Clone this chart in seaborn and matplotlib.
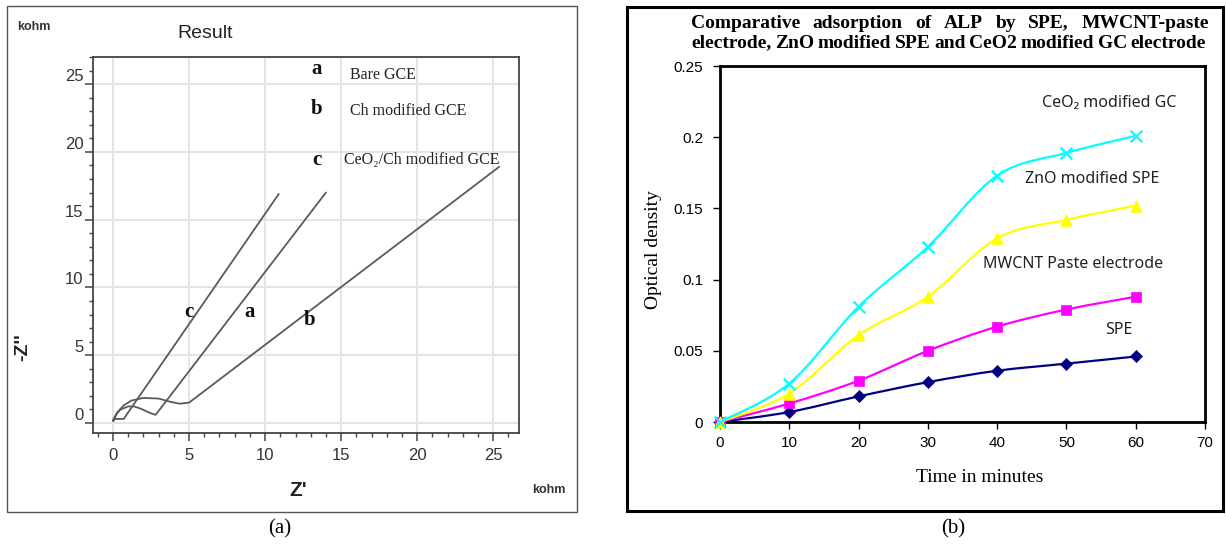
import numpy as np
import pandas as pd
import matplotlib
matplotlib.use("Agg")
import matplotlib.pyplot as plt
import seaborn as sns
from matplotlib.path import Path
from matplotlib.patches import PathPatch, Rectangle
from matplotlib.ticker import MultipleLocator

# ---------------- Panel (a): Nyquist plots (kohm) ----------------
bare_z_re = [0.0, 0.2, 0.5, 1.0, 1.4, 1.9, 2.4, 2.8, 14.0]
bare_z_im = [0.2, 0.65, 1.0, 1.22, 1.22, 1.02, 0.75, 0.6, 17.0]
ch_z_re = [0.0, 0.3, 0.7, 1.2, 2.0, 3.0, 3.8, 4.4, 5.0, 25.4]
ch_z_im = [0.15, 0.8, 1.3, 1.65, 1.85, 1.8, 1.55, 1.42, 1.5, 18.9]
ceo2_z_re = [0.0, 0.15, 0.7, 10.9]
ceo2_z_im = [0.15, 0.3, 0.3, 16.9]
a_ticks = [0, 5, 10, 15, 20, 25]
legend_letters = ["a", "b", "c"]
legend_names = ["Bare GCE", "Ch modified GCE", "CeO\u2082/Ch modified GCE"]

# ---------------- Panel (b): optical density vs time ----------------
time_min = [0, 10, 20, 30, 40, 50, 60]
od_spe = [0, 0.007, 0.018, 0.028, 0.036, 0.041, 0.046]
od_mwcnt = [0, 0.013, 0.029, 0.050, 0.067, 0.079, 0.088]
od_zno = [0, 0.020, 0.061, 0.088, 0.129, 0.142, 0.152]
od_ceo2 = [0, 0.027, 0.081, 0.123, 0.173, 0.189, 0.201]
series_names = ["SPE", "MWCNT Paste electrode", "ZnO modified SPE", "CeO\u2082 modified GC"]
b_xticks = [0, 10, 20, 30, 40, 50, 60, 70]
b_yticks = [0, 0.05, 0.1, 0.15, 0.2, 0.25]
b_yticklabels = ["0", "0.05", "0.1", "0.15", "0.2", "0.25"]

sns.set_theme(style="white")
plt.rcParams["font.family"] = ["Liberation Sans", "DejaVu Sans"]
SERIF = ["Liberation Serif", "DejaVu Serif"]
SANS = ["Liberation Sans", "DejaVu Sans"]
CAL = ["Noto Sans", "DejaVu Sans"]

W, H = 1226, 544
fig = plt.figure(figsize=(W / 100, H / 100), dpi=100)
fig.patch.set_facecolor("white")


def fx(px):
    return px / W


def fy(py):
    return 1 - py / H


# outer frames
fig.patches.append(Rectangle((fx(7), fy(512)), (577 - 7) / W, (512 - 6) / H,
                             transform=fig.transFigure, fill=False,
                             edgecolor="#555555", lw=1.0))
fig.patches.append(Rectangle((fx(627), fy(511)), (1223 - 627) / W, (511 - 7) / H,
                             transform=fig.transFigure, fill=False,
                             edgecolor="black", lw=2.2))

# ================= Panel (a) =================
axa = fig.add_axes([fx(93), fy(433), (519 - 93) / W, (433 - 57) / H])
gray = "#5a5a5a"
for xs, ys in [(bare_z_re, bare_z_im), (ch_z_re, ch_z_im), (ceo2_z_re, ceo2_z_im)]:
    sns.lineplot(x=xs, y=ys, sort=False, estimator=None, color=gray, lw=1.3, ax=axa)
axa.set_xlim(-1.32, 26.7)
axa.set_ylim(-0.74, 27.0)
axa.set_xticks(a_ticks)
axa.set_yticks(a_ticks)
axa.xaxis.set_minor_locator(MultipleLocator(1))
axa.yaxis.set_minor_locator(MultipleLocator(1))
axa.grid(True, which="major", color="#e4e4e4", lw=1.4)
axa.set_axisbelow(True)
for s in axa.spines.values():
    s.set_color("#444444")
    s.set_linewidth(1.3)
axa.tick_params(axis="both", which="major", direction="out", length=6, width=1.1,
                color="#444444", labelsize=12, labelcolor="#333333",
                left=True, bottom=True)
axa.tick_params(axis="both", which="minor", direction="out", length=3, width=1.0,
                color="#444444", left=True, bottom=True)
axa.tick_params(axis="y", which="major", pad=1)
axa.tick_params(axis="x", which="major", pad=5)
plt.setp(axa.get_yticklabels(), va="bottom")
axa.set_xlabel("")
axa.set_ylabel("")

leg_y = [26.1, 23.2, 19.4]
name_y = [25.7, 23.0, 19.4]
name_x = [15.6, 15.6, 15.2]
for L, nm, ly, ny, nx in zip(legend_letters, legend_names, leg_y, name_y, name_x):
    axa.text(13.4, ly, L, family=SERIF, fontweight="bold", fontsize=15,
             ha="center", va="center", color="#111111")
    axa.text(nx, ny, nm, family=SERIF, fontsize=11.5, ha="left", va="center",
             color="#222222")
axa.text(5.0, 8.2, "c", family=SERIF, fontweight="bold", fontsize=15,
         ha="center", va="center", color="#111111")
axa.text(9.0, 8.2, "a", family=SERIF, fontweight="bold", fontsize=15,
         ha="center", va="center", color="#111111")
axa.text(12.9, 7.6, "b", family=SERIF, fontweight="bold", fontsize=15,
         ha="center", va="center", color="#111111")

fig.text(fx(205), fy(33), "Result", family=SANS, fontsize=14, ha="center",
         va="center", color="#222222")
fig.text(fx(34), fy(27), "kohm", family=SANS, fontsize=9, ha="center",
         va="center", color="#333333", fontweight="bold")
fig.text(fx(549), fy(490), "kohm", family=SANS, fontsize=9, ha="center",
         va="center", color="#333333", fontweight="bold")
fig.text(fx(298), fy(490), "Z'", family=SANS, fontsize=15, ha="center",
         va="center", color="#222222", fontweight="bold")
fig.text(fx(23), fy(347), "-Z''", family=SANS, fontsize=14, ha="center",
         va="center", color="#222222", fontweight="bold", rotation=90)
fig.text(fx(280), fy(529), "(a)", family=SERIF, fontsize=15, ha="center",
         va="center", color="black")

# ================= Panel (b) =================
axb = fig.add_axes([fx(720), fy(422), (1205 - 720) / W, (422 - 66) / H])
colors = ["#000080", "#FF00FF", "#FFFF00", "#00FFFF"]
markers = ["D", "s", "^", "x"]
sizes = [38, 60, 70, 70]
all_series = [od_spe, od_mwcnt, od_zno, od_ceo2]


def smooth_path(xs, ys):
    P = np.column_stack([xs, ys]).astype(float)
    n = len(P)
    verts = [P[0]]
    codes = [Path.MOVETO]
    for i in range(n - 1):
        p0 = P[i - 1] if i > 0 else P[i]
        p1 = P[i]
        p2 = P[i + 1]
        p3 = P[i + 2] if i + 2 < n else P[i + 1]
        c1 = p1 + (p2 - p0) / 6.0
        c2 = p2 - (p3 - p1) / 6.0
        verts += [c1, c2, p2]
        codes += [Path.CURVE4] * 3
    return Path(verts, codes)


for k, (vals, c, m, sz) in enumerate(zip(all_series, colors, markers, sizes)):
    patch = PathPatch(smooth_path(time_min, vals), fill=False, edgecolor=c,
                      lw=1.6, transform=axb.transData, zorder=2 + 2 * k,
                      clip_on=False)
    axb.add_patch(patch)
    df = pd.DataFrame({"t": time_min, "od": vals})
    if m == "x":
        sns.scatterplot(data=df, x="t", y="od", marker=m, s=sz, color=c,
                        linewidth=1.6, ax=axb, zorder=3 + 2 * k, clip_on=False)
    else:
        sns.scatterplot(data=df, x="t", y="od", marker=m, s=sz, color=c,
                        edgecolor=c, linewidth=0.5, ax=axb, zorder=3 + 2 * k,
                        clip_on=False)

axb.set_xlim(0, 70)
axb.set_ylim(0, 0.25)
axb.set_xticks(b_xticks)
axb.set_yticks(b_yticks)
axb.set_yticklabels(b_yticklabels)
axb.grid(False)
for s in axb.spines.values():
    s.set_color("black")
    s.set_linewidth(2.0)
axb.tick_params(axis="both", which="major", direction="out", length=5, width=1.0,
                color="black", labelsize=11, labelcolor="black",
                left=True, bottom=True)
axb.tick_params(axis="y", pad=7)
axb.tick_params(axis="x", pad=5)
axb.set_xlabel("")
axb.set_ylabel("")

lab_pos = [(55.6, 0.0645), (38.0, 0.111), (44.0, 0.1705), (46.5, 0.224)]
for nm, (lx, ly) in zip(series_names, lab_pos):
    axb.text(lx, ly, nm, family=CAL, fontsize=11.5, ha="left", va="center",
             color="#222222")

fig.text(fx(980), fy(477), "Time in minutes", family=SERIF, fontsize=14,
         ha="center", va="center", color="black")
fig.text(fx(653), fy(250), "Optical density", family=SERIF, fontsize=14,
         ha="center", va="center", color="black", rotation=90)
fig.text(fx(953), fy(529), "(b)", family=SERIF, fontsize=15, ha="center",
         va="center", color="black")

# justified bold serif title
title_lines = ["Comparative adsorption of ALP by SPE, MWCNT-paste",
               "electrode, ZnO modified SPE and CeO2 modified GC electrode"]
line_spans = [(691, 1209, 23), (691, 1206, 43)]
renderer = fig.canvas.get_renderer()
for line, (x0, x1, yy) in zip(title_lines, line_spans):
    words = line.split(" ")
    texts = [fig.text(0, fy(yy), w, family=SERIF, fontweight="bold",
                      fontsize=14, ha="left", va="center", color="black")
             for w in words]
    widths = [t.get_window_extent(renderer).width for t in texts]
    gap = (x1 - x0 - sum(widths)) / (len(words) - 1)
    gap = max(gap, 3.0)
    xcur = x0
    for t, wd in zip(texts, widths):
        t.set_x(fx(xcur))
        xcur += wd + gap

fig.savefig("out.png", dpi=100, facecolor="white")
